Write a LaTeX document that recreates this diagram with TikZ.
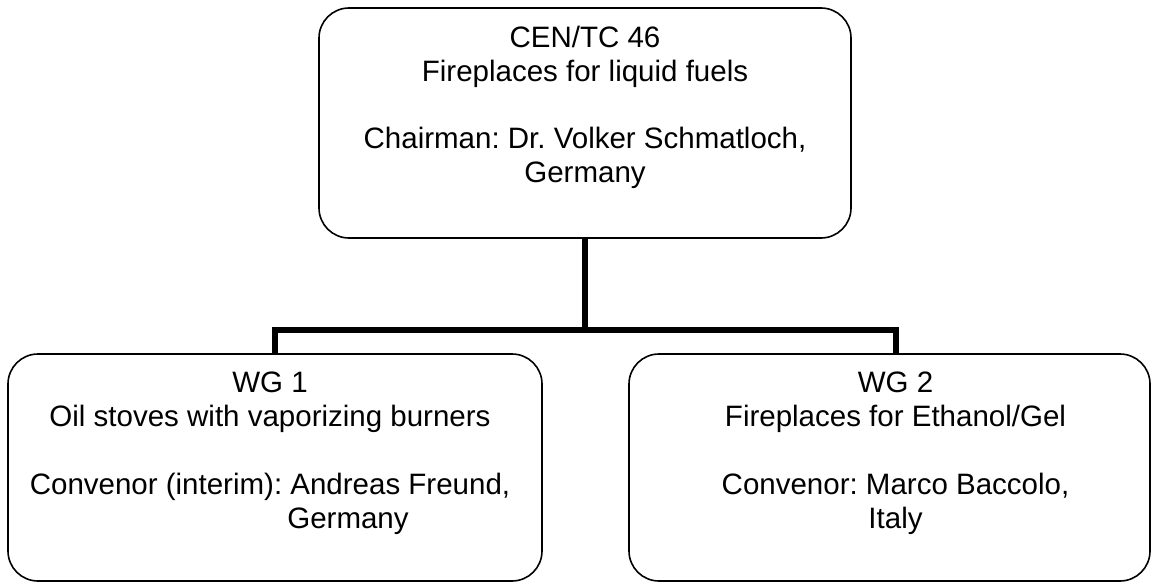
\documentclass[tikz,border=0pt]{standalone}
\usepackage{fontspec}
\setmainfont{Liberation Sans}
\frenchspacing
\tikzset{
  box/.style={draw=black, line width=1.6pt, rounded corners=30pt, inner sep=0pt, outer sep=0pt},
  boxtext/.style={anchor=north, align=center, inner sep=0pt, font=\fontsize{29.5}{34}\selectfont\frenchspacing},
  conn/.style={draw=black, line width=6pt, line join=miter, line cap=butt}
}
\begin{document}
\begin{tikzpicture}[x=1pt,y=-1pt]
\useasboundingbox (0,0) rectangle (1151,583);
% boxes
\node[box, minimum width=532pt, minimum height=230pt] (top) at (585,123) {};
\node[box, minimum width=534pt, minimum height=227pt] (wg1) at (275,467.5) {};
\node[box, minimum width=521pt, minimum height=227pt] (wg2) at (889.5,467.5) {};
% texts
\node[boxtext] (toptext) at (585,25.5) {CEN/TC 46\\Fireplaces for liquid fuels\\[33pt]Chairman: Dr. Volker Schmatloch,\\Germany};
\node[boxtext] (wg1text) at (270,371.5) {WG 1\\Oil stoves with vaporizing burners\\[34pt]Convenor (interim): Andreas Freund,\\\hspace*{156pt}Germany};
\node[boxtext] (wg2text) at (895.5,371.5) {WG 2\\Fireplaces for Ethanol/Gel\\[34pt]Convenor: Marco Baccolo,\\Italy};
% connectors
\coordinate (j) at (585,330);
\coordinate (wg2top) at (895.5,354);
\draw[conn] (top.south) -- (j);
\draw[conn] (wg1.north) |- (j) -| (wg2top);
\end{tikzpicture}
\end{document}
